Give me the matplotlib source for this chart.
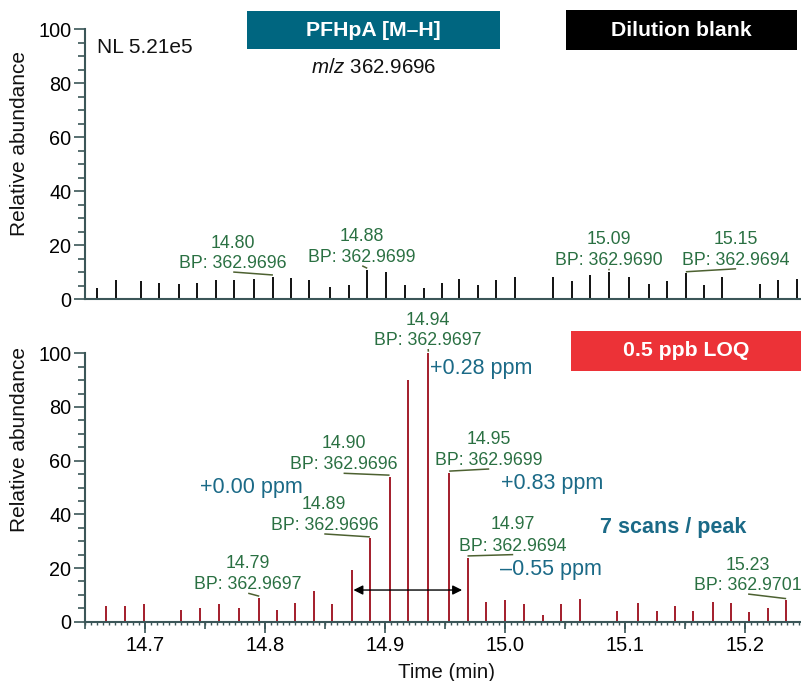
import matplotlib
matplotlib.use('Agg')
import matplotlib.pyplot as plt
import numpy as np
from matplotlib.ticker import MultipleLocator, FormatStrFormatter
from matplotlib.patches import Rectangle

plt.rcParams['font.family'] = ['Liberation Sans', 'DejaVu Sans']
plt.rcParams['mathtext.fontset'] = 'custom'
plt.rcParams['mathtext.it'] = 'Liberation Sans:italic'
plt.rcParams['mathtext.rm'] = 'Liberation Sans'

# ---------------- data ----------------
top_times = [14.6597, 14.6756, 14.6964, 14.7117, 14.7278, 14.7433, 14.7586, 14.7739,
             14.7903, 14.8064, 14.8217, 14.8367, 14.8542, 14.8694, 14.8850, 14.9008,
             14.9161, 14.9322, 14.9472, 14.9611, 14.9772, 14.9925, 15.0081, 15.0398,
             15.0558, 15.0711, 15.0867, 15.1033, 15.1200, 15.1350, 15.1506, 15.1656,
             15.1811, 15.2125, 15.2278, 15.2431]
top_heights = [4.0, 7.0, 6.6, 6.1, 5.6, 6.1, 7.0, 7.0,
               7.5, 8.3, 7.8, 7.0, 4.5, 5.1, 10.8, 10.0,
               5.1, 4.0, 5.8, 7.5, 5.1, 7.0, 8.3, 8.3,
               6.6, 9.0, 10.0, 8.3, 5.6, 6.6, 9.5, 5.1,
               8.3, 5.6, 7.0, 7.5]

bot_times = [14.6675, 14.6828, 14.6992, 14.7298, 14.7458, 14.7611, 14.7783, 14.7950,
             14.8100, 14.8250, 14.8406, 14.8560, 14.8719, 14.8872, 14.9036, 14.9190,
             14.9360, 14.9533, 14.9686, 14.9839, 15.0000, 15.0156, 15.0314, 15.0467,
             15.0623, 15.0936, 15.1108, 15.1264, 15.1417, 15.1569, 15.1731, 15.1883,
             15.2036, 15.2189, 15.2342]
bot_heights = [6.0, 6.0, 6.5, 4.4, 5.1, 6.5, 5.1, 8.9,
               4.5, 7.0, 11.4, 6.5, 19.2, 31.0, 54.0, 90.0,
               100.0, 55.5, 23.9, 7.5, 7.9, 6.5, 2.6, 6.5,
               8.5, 4.0, 7.1, 4.0, 6.0, 4.0, 7.5, 7.1,
               3.6, 5.1, 8.0]

# peak labels: (RT text, BP text, label x, RT baseline, BP baseline, bar index)
top_labels = [("14.80", "BP: 362.9696", 14.7733, 19.0, 11.5, 9),
              ("14.88", "BP: 362.9699", 14.8808, 21.6, 13.8, 14),
              ("15.09", "BP: 362.9690", 15.0864, 20.5, 12.7, 26),
              ("15.15", "BP: 362.9694", 15.1925, 20.5, 12.7, 30)]
bot_labels = [("14.79", "BP: 362.9697", 14.7858, 19.9, 12.1, 7),
              ("14.89", "BP: 362.9696", 14.8492, 41.9, 34.2, 13),
              ("14.90", "BP: 362.9696", 14.8653, 64.6, 56.8, 14),
              ("14.94", "BP: 362.9697", 14.9358, 110.6, 103.1, 16),
              ("14.95", "BP: 362.9699", 14.9867, 66.2, 58.4, 17),
              ("14.97", "BP: 362.9694", 15.0067, 34.4, 26.5, 18),
              ("15.23", "BP: 362.9701", 15.2025, 19.3, 11.8, 34)]
ppm_labels = [("+0.28 ppm", 14.9375, 92.3),
              ("+0.00 ppm", 14.7458, 48.1),
              ("+0.83 ppm", 14.9964, 49.3),
              ("\u20130.55 ppm", 14.9953, 17.4)]
scan_arrow = (14.8735, 14.9641, 11.8)

# ---------------- style ----------------
W, H = 801, 681
SPINE = '#3b5658'
GREEN = '#2a7042'
LEADER = '#4d6131'
PPM = '#1b6a87'
BAR_TOP = '#111111'
BAR_BOT = '#a31d2b'

fig = plt.figure(figsize=(W / 100, H / 100), dpi=100)


def fx(px):
    return px / W


def fy(py):
    return 1 - py / H


def make_axes(top_px, bottom_px):
    ax = fig.add_axes([fx(85.3), fy(bottom_px), fx(801.5) - fx(85.3), fy(top_px) - fy(bottom_px)])
    ax.set_xlim(14.65, 15.247)
    ax.set_ylim(0, 100)
    for s in ['top', 'right']:
        ax.spines[s].set_visible(False)
    for s in ['left', 'bottom']:
        ax.spines[s].set_color(SPINE)
        ax.spines[s].set_linewidth(1.5)
    ax.yaxis.set_major_locator(MultipleLocator(20))
    ax.yaxis.set_minor_locator(MultipleLocator(5))
    ax.tick_params(axis='y', which='major', length=8, width=1.2, color=SPINE,
                   labelsize=14.3, pad=2)
    ax.tick_params(axis='y', which='minor', length=5, width=1.2, color=SPINE)
    ax.patch.set_alpha(0)
    return ax


ax_top = make_axes(29.3, 299.0)
ax_bot = make_axes(353.3, 621.7)

ax_top.tick_params(axis='x', which='both', bottom=False, labelbottom=False)

ax_bot.xaxis.set_major_locator(MultipleLocator(0.1))
ax_bot.xaxis.set_major_formatter(FormatStrFormatter('%.1f'))
ax_bot.xaxis.set_minor_locator(MultipleLocator(0.005))
ax_bot.tick_params(axis='x', which='major', length=8, width=1.2, color=SPINE,
                   labelsize=14.5, pad=2.5)
ax_bot.tick_params(axis='x', which='minor', length=2.2, width=1.0, color=SPINE)
sec = ax_bot.secondary_xaxis('bottom')
sec.xaxis.set_major_locator(MultipleLocator(0.05))
sec.tick_params(axis='x', which='major', length=5, width=1.2, color=SPINE,
                labelbottom=False)
sec.spines['bottom'].set_visible(False)

ax_top.vlines(top_times, 0, top_heights, color=BAR_TOP, lw=1.4, zorder=2)
ax_bot.vlines(bot_times, 0, bot_heights, color=BAR_BOT, lw=1.4, zorder=2)


def add_labels(ax, labels, times, heights):
    for rt, bp, xc, yrt, ybp, idx in labels:
        ax.text(xc, yrt, rt, ha='center', va='baseline', fontsize=12.8,
                color=GREEN, clip_on=False)
        ax.text(xc, ybp, bp, ha='center', va='baseline', fontsize=12.8,
                color=GREEN, clip_on=False)
        ax.plot([xc, times[idx]], [ybp - 1.5, heights[idx] + 0.6], color=LEADER,
                lw=1.1, clip_on=False, solid_capstyle='butt')


add_labels(ax_top, top_labels, top_times, top_heights)
add_labels(ax_bot, bot_labels, bot_times, bot_heights)

for txt, x, y in ppm_labels:
    ax_bot.text(x, y, txt, ha='left', va='baseline', fontsize=15.5, color=PPM,
                clip_on=False)
ax_bot.text(15.14, 32.9, '7 scans / peak', ha='center', va='baseline',
            fontsize=15.5, fontweight='bold', color=PPM)

ax_bot.annotate('', xy=(scan_arrow[0], scan_arrow[2]), xytext=(scan_arrow[1], scan_arrow[2]),
                arrowprops=dict(arrowstyle='<|-|>', color='black', lw=1.0,
                                mutation_scale=14, shrinkA=0, shrinkB=0))

# header boxes
def box(x0, x1, y0, y1, color, text, baseline):
    fig.add_artist(Rectangle((fx(x0), fy(y1)), fx(x1) - fx(x0), fy(y0) - fy(y1),
                             transform=fig.transFigure, facecolor=color,
                             edgecolor='none'))
    fig.text(fx((x0 + x1) / 2), fy(baseline), text, ha='center', va='baseline',
             fontsize=15.3, fontweight='bold', color='white')


box(247, 500, 11, 49, '#006680', 'PFHpA [M\u2013H]', 36)
box(566, 797, 10, 50, '#000000', 'Dilution blank', 36)
box(571, 801, 331, 371, '#ec3237', '0.5 ppb LOQ', 356.5)

fig.text(fx(373.5), fy(73), r'$\it{m/z}$ 362.9696', ha='center', va='baseline',
         fontsize=14.8, color='#111111')
fig.text(fx(96.7), fy(52.7), 'NL 5.21e5', ha='left', va='baseline',
         fontsize=15, color='#111111')

fig.text(fx(19.3), fy(144), 'Relative abundance', rotation=90, ha='center',
         va='center', fontsize=15, color='#111111')
fig.text(fx(19.3), fy(440), 'Relative abundance', rotation=90, ha='center',
         va='center', fontsize=15, color='#111111')
fig.text(fx(446.5), fy(678), 'Time (min)', ha='center', va='baseline',
         fontsize=14.8, color='#111111')

fig.savefig('out.png', dpi=100)
